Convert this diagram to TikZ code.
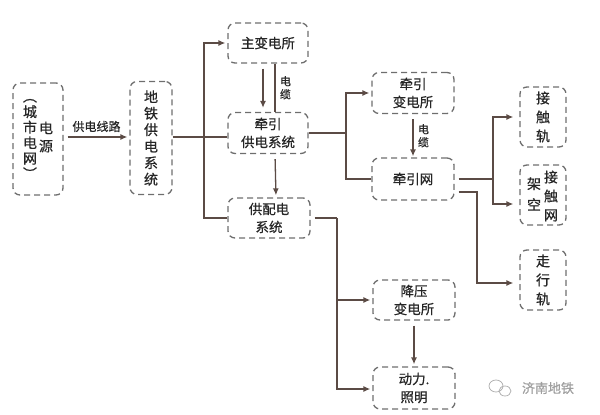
\documentclass[tikz,border=0pt]{standalone}
\usepackage{fontspec}
\setmainfont{Noto Sans CJK SC}[FakeBold=0.7]
\usetikzlibrary{arrows.meta}
\definecolor{linebrown}{HTML}{5B4B45}
\definecolor{dashgray}{HTML}{6E6E6E}
\definecolor{txtgray}{HTML}{262626}
\tikzset{
	box/.style={draw=dashgray,dash pattern=on 6pt off 4pt,line width=1.3pt,rounded corners=7pt,align=center,text=txtgray,font=\fontsize{13.5}{18}\selectfont},
	vtext/.style={align=center,text=txtgray,font=\fontsize{14}{16.5}\selectfont},
	conn/.style={draw=linebrown,line width=1.3pt},
	arr/.style={conn,-{Latex[length=7pt,width=6pt]},shorten >=2pt},
	lbl/.style={align=center,text=txtgray,font=\fontsize{11}{13}\selectfont}
}
\begin{document}
\begin{tikzpicture}[x=1pt,y=-1pt]
	\useasboundingbox (0,0) rectangle (600,415);
	% boxes
	\node[box,minimum width=50pt,minimum height=112pt,name=src] at (38,139){};
	\node[vtext,name=srcR,font=\fontsize{14}{18}\selectfont] at (46,137){电\\源};
	\node[vtext,name=srcL,font=\fontsize{14}{15.5}\selectfont] at (30,139){︵\\城\\市\\电\\网\\︶};
	\node[box,minimum width=42pt,minimum height=113pt,name=ditie,font=\fontsize{14}{16.5}\selectfont] at (151,138){地\\铁\\供\\电\\系\\统};
	\node[box,minimum width=80pt,minimum height=40pt,name=zhubian] at (268,43){主变电所};
	\node[box,minimum width=80pt,minimum height=41pt,name=qygd] at (268,133){牵引\\供电系统};
	\node[box,minimum width=82pt,minimum height=40pt,name=gpd] at (269,218){供配电\\系统};
	\node[box,minimum width=82pt,minimum height=41pt,name=qybd] at (413,93){牵引\\变电所};
	\node[box,minimum width=82pt,minimum height=42pt,name=qyw] at (413,179){牵引网};
	\node[box,minimum width=82pt,minimum height=40pt,name=jybd] at (414,300){降压\\变电所};
	\node[box,minimum width=82pt,minimum height=42pt,name=dlzm] at (414,388){动力.\\照明};
	\foreach \n/\y/\t in {jcg/117/接\\触\\轨,jkjcw/195/{},zxg/280/走\\行\\轨}{
		\node[box,minimum width=46pt,minimum height=60pt,name=\n,font=\fontsize{14}{19}\selectfont] at (543,\y){\t};
	}
	\node[vtext,name=jkR,font=\fontsize{14}{19}\selectfont] at (551,196){接\\触\\网};
	\node[vtext,name=jkL,font=\fontsize{14}{21}\selectfont] at (534,194){架\\空};
	% forks
	\coordinate (fork1) at (204,137);
	\coordinate (fork2) at (346,133);
	\coordinate (fork3) at (493,179);
	\coordinate (fork4) at (477,192);
	\coordinate (fork5) at (337,218);
	% connectors
	\draw[arr,shorten <=4pt] (src.east |- 0,137) -- (ditie.west |- 0,137) node[lbl,midway,above=1pt,font=\fontsize{12}{14}\selectfont]{供电线路};
	\draw[conn] (ditie.east |- fork1) -- (qygd.west |- fork1);
	\draw[arr] (gpd.west) -| (fork1) |- (zhubian.west);
	\draw[arr,shorten <=5pt,shorten >=4pt] ([xshift=-5pt]zhubian.south) -- ([xshift=-5pt]qygd.north);
	\draw[conn] ([xshift=7pt]zhubian.south) -- ([xshift=7pt]qygd.north) node[lbl,midway,right=1pt]{电\\缆};
	\draw[arr,shorten <=5pt] ([xshift=7pt]qygd.south) -- ([xshift=7pt]gpd.north);
	\draw[conn] (qygd.east) -- (fork2);
	\draw[arr] (qyw.west) -| (fork2) |- (qybd.west);
	\draw[arr,shorten <=5pt,shorten >=1pt] (qybd.south) -- (qyw.north) node[lbl,midway,right=1pt]{电\\缆};
	\draw[arr,shorten <=4pt,shorten >=6pt] (qyw.east) -| (fork3) |- (jcg.west);
	\draw[arr,shorten >=6pt] (fork3) |- ([yshift=-9pt]jkjcw.west);
	\draw[arr,shorten <=4pt,shorten >=6pt] ([yshift=-13pt]qyw.east) -| (fork4) |- ([yshift=-3pt]zxg.west);
	\draw[conn] ([xshift=4pt]gpd.east) -- (fork5);
	\draw[arr] (fork5) |- (jybd.west);
	\draw[arr] (fork5) |- ([yshift=-1pt]dlzm.west);
	\draw[arr,shorten <=5pt] (jybd.south) -- (dlzm.north);
	% watermark
	\node[text=gray!75,font=\fontsize{13}{15}\selectfont,name=mark] at (548,388){济南地铁};
	\draw[gray!60,line width=0.8pt] (496,386) ellipse (7pt and 6pt);
	\draw[gray!60,line width=0.8pt] (505,391) ellipse (6pt and 5pt);
\end{tikzpicture}
\end{document}
